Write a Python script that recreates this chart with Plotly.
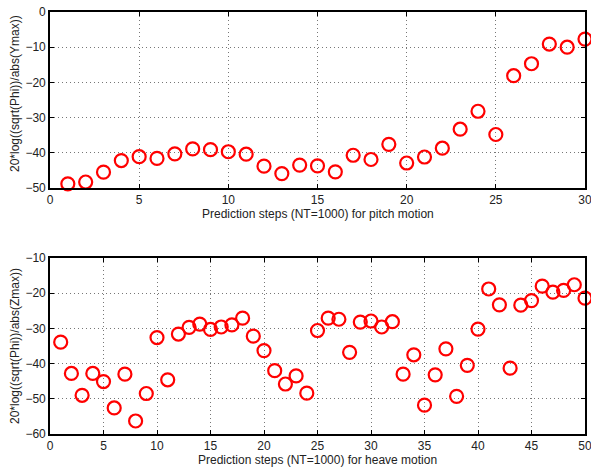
import plotly.graph_objects as go

pitch_steps = list(range(1, 31))
pitch_vals = [-48.8, -48.3, -45.5, -42.2, -41.1, -41.6, -40.3, -38.9, -39.1, -39.7,
              -40.4, -43.8, -45.9, -43.5, -43.7, -45.4, -40.7, -41.9, -37.6, -42.9,
              -41.2, -38.7, -33.3, -28.2, -34.8, -18.1, -14.7, -9.1, -10.0, -7.7]

heave_steps = list(range(1, 51))
heave_vals = [-33.9, -42.8, -49.0, -42.8, -45.1, -52.6, -43.0, -56.3, -48.5, -32.6,
              -44.6, -31.6, -29.7, -28.8, -30.3, -29.6, -29.0, -27.1, -32.2, -36.3,
              -42.0, -45.8, -43.5, -48.4, -30.6, -27.1, -27.4, -36.8, -28.2, -27.9,
              -29.6, -28.1, -43.0, -37.5, -51.8, -43.2, -35.8, -49.3, -40.5, -30.2,
              -18.8, -23.3, -41.3, -23.4, -22.1, -18.0, -19.7, -19.2, -17.6, -21.4]

pitch_xticks = [0, 5, 10, 15, 20, 25, 30]
pitch_yticks = [0, -10, -20, -30, -40, -50]
heave_xticks = [0, 5, 10, 15, 20, 25, 30, 35, 40, 45, 50]
heave_yticks = [-10, -20, -30, -40, -50, -60]

W, H = 591, 471
FONT = "Liberation Sans, Arial, sans-serif"

marker = dict(symbol="circle-open", size=13, color="red", line=dict(color="red", width=2.2))

fig = go.Figure()
fig.add_trace(go.Scatter(x=pitch_steps, y=pitch_vals, mode="markers", marker=marker,
                         xaxis="x", yaxis="y", showlegend=False, cliponaxis=False))
fig.add_trace(go.Scatter(x=heave_steps, y=heave_vals, mode="markers", marker=marker,
                         xaxis="x2", yaxis="y2", showlegend=False, cliponaxis=False))

xd = [50 / W, 585 / W]
common = dict(showline=True, linecolor="black", linewidth=1.6, mirror="ticks",
              ticks="inside", ticklen=4, tickcolor="black",
              showgrid=True, gridcolor="#777", griddash="1px,3px", gridwidth=1,
              zeroline=False, ticklabeloverflow="allow", automargin=False,
              tickfont=dict(family=FONT, size=12, color="#222"))

fig.update_layout(
    width=W, height=H,
    margin=dict(l=0, r=0, t=0, b=0, autoexpand=False),
    paper_bgcolor="white", plot_bgcolor="white",
    xaxis=dict(domain=xd, range=[0, 30], tickvals=pitch_xticks, anchor="y", **common),
    yaxis=dict(domain=[1 - 188 / H, 1 - 12 / H], range=[-50, 0], tickvals=pitch_yticks,
               anchor="x", **common),
    xaxis2=dict(domain=xd, range=[0, 50], tickvals=heave_xticks, anchor="y2", **common),
    yaxis2=dict(domain=[1 - 434 / H, 1 - 258 / H], range=[-60, -10], tickvals=heave_yticks,
                anchor="x2", **common),
)

tfont = dict(family=FONT, size=12, color="#222")
fig.add_annotation(text="Prediction steps (NT=1000) for pitch motion", x=318 / W, y=1 - 214 / H,
                   xref="paper", yref="paper", showarrow=False, font=tfont,
                   xanchor="center", yanchor="middle")
fig.add_annotation(text="Prediction steps (NT=1000) for heave motion", x=318 / W, y=1 - 460 / H,
                   xref="paper", yref="paper", showarrow=False, font=tfont,
                   xanchor="center", yanchor="middle")
fig.add_annotation(text="20*log((sqrt(Phi))/abs(Ymax))", x=15 / W, y=1 - 94 / H,
                   xref="paper", yref="paper", showarrow=False, font=tfont, textangle=-90,
                   xanchor="center", yanchor="middle")
fig.add_annotation(text="20*log((sqrt(Phi))/abs(Zmax))", x=15 / W, y=1 - 346 / H,
                   xref="paper", yref="paper", showarrow=False, font=tfont, textangle=-90,
                   xanchor="center", yanchor="middle")

fig.write_html("out.html")
